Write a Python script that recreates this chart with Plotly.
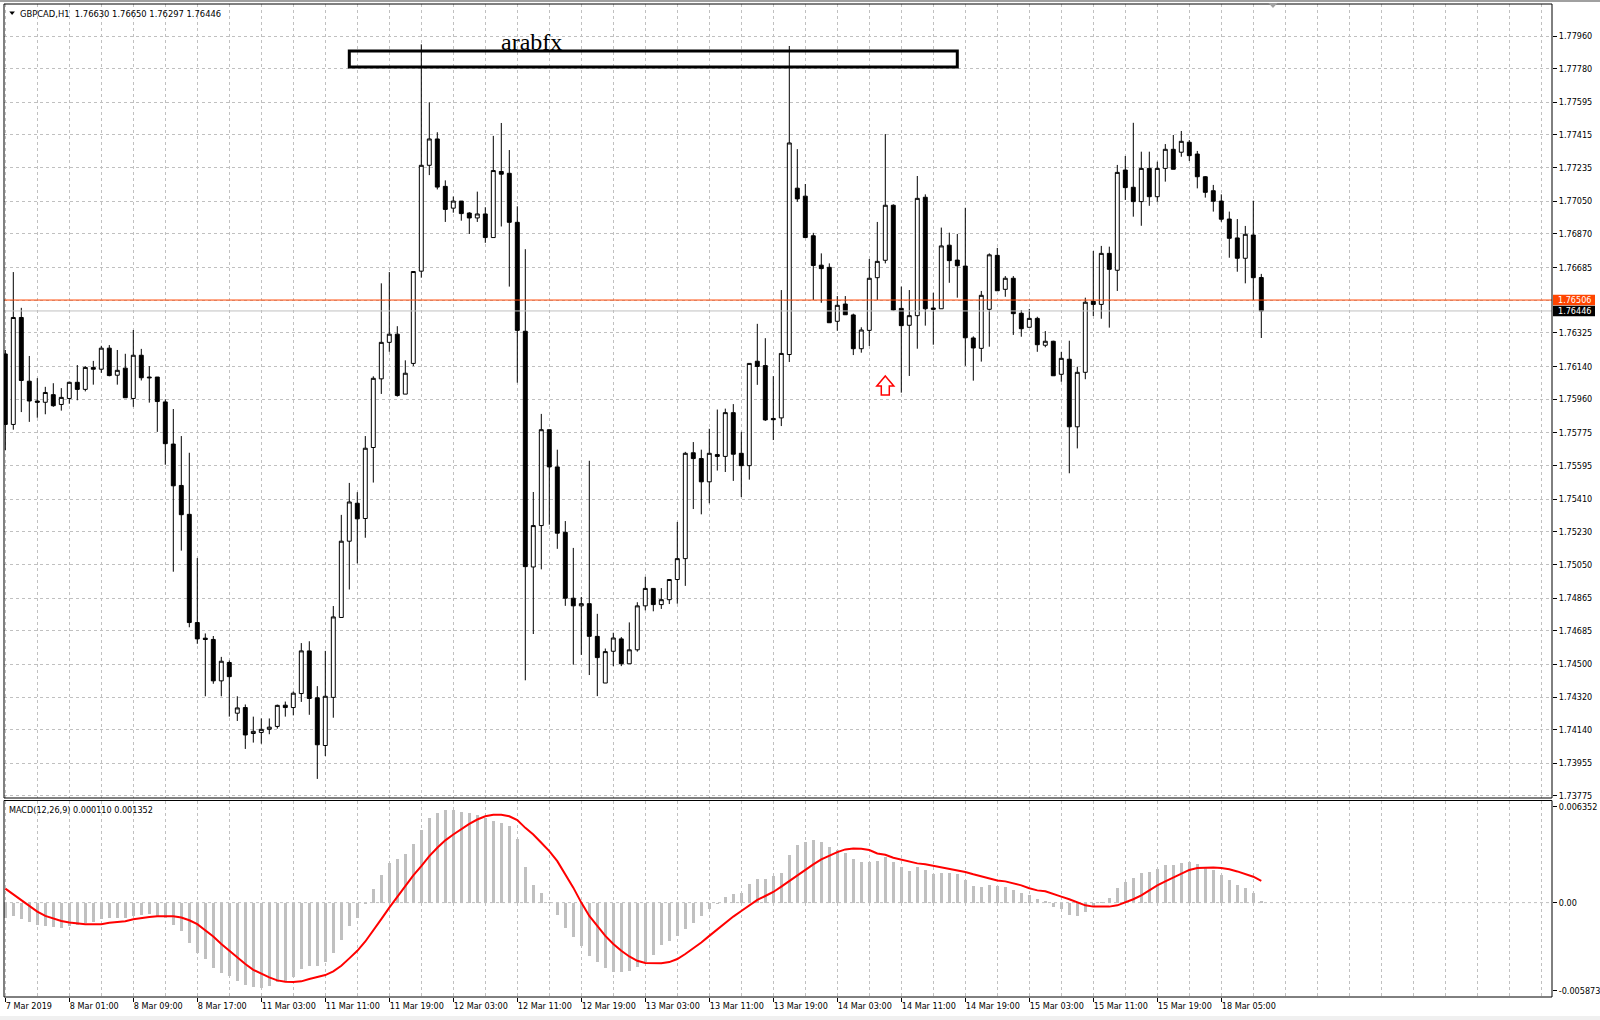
import plotly.graph_objects as go

# ---------------- data ----------------
opens = [1.76209,1.75821,1.76410,1.76059,1.75950,1.75943,1.75985,1.75931,1.75964,1.76053,
         1.76014,1.76135,1.76125,1.76241,1.76092,1.76131,1.75964,1.76202,1.76082,1.76082,
         1.75945,1.75713,1.75485,1.75326,1.74730,1.74644,1.74637,1.74409,1.74510,1.74231,
         1.74262,1.74119,1.74125,1.74142,1.74158,1.74275,1.74262,1.74339,1.74574,1.74316,
         1.74053,1.74318,1.74758,1.75178,1.75387,1.75303,1.75694,1.76072,1.76273,1.76318,
         1.75988,1.76157,1.76665,1.77248,1.77393,1.77132,1.77012,1.77051,1.76985,1.76958,
         1.76980,1.76850,1.77214,1.77204,1.76934,1.76334,1.75036,1.75264,1.75792,1.75587,
         1.75227,1.74864,1.74822,1.74834,1.74654,1.74397,1.74572,1.74640,1.74503,1.74580,
         1.74822,1.74918,1.74829,1.74856,1.74967,1.75082,1.75665,1.75633,1.75505,1.75655,
         1.75645,1.75886,1.75662,1.75594,1.76169,1.76145,1.75854,1.75857,1.76206,1.77122,
         1.77078,1.76860,1.76698,1.76686,1.76389,1.76484,1.76424,1.76238,1.76339,1.76629,
         1.76725,1.77028,1.76460,1.76367,1.76420,1.77072,1.76462,1.76458,1.76808,1.76726,
         1.76693,1.76297,1.76240,1.76455,1.76752,1.76565,1.76626,1.76433,1.76356,1.76405,
         1.76257,1.76279,1.76097,1.76180,1.75808,1.76108,1.76499,1.76482,1.76763,1.76670,
         1.77222,1.77127,1.77048,1.77231,1.77075,1.77231,1.77336,1.77320,1.77375,1.77310,
         1.77185,1.77108,1.77051,1.76952,1.76848,1.76736,1.76864,1.76630]
highs = [1.76231,1.76660,1.76463,1.76198,1.76076,1.76028,1.76048,1.76021,1.76057,1.76148,
         1.76142,1.76171,1.76254,1.76258,1.76231,1.76210,1.76341,1.76237,1.76142,1.76082,
         1.75960,1.75906,1.75757,1.75665,1.75085,1.74670,1.74656,1.74541,1.74521,1.74324,
         1.74279,1.74212,1.74202,1.74202,1.74278,1.74295,1.74351,1.74617,1.74627,1.74380,
         1.74574,1.74821,1.75323,1.75499,1.75448,1.75757,1.76086,1.76598,1.76660,1.76362,
         1.76174,1.76663,1.77914,1.77595,1.77430,1.77165,1.77076,1.77051,1.76990,1.77103,
         1.77017,1.77410,1.77481,1.77332,1.77022,1.76786,1.75449,1.75879,1.75792,1.75682,
         1.75289,1.75141,1.74871,1.75621,1.74778,1.74587,1.74674,1.74650,1.74731,1.74842,
         1.74982,1.74918,1.74920,1.74969,1.75284,1.75670,1.75724,1.75682,1.75797,1.75903,
         1.75908,1.75933,1.75780,1.76157,1.76375,1.76296,1.76087,1.76561,1.77905,1.77337,
         1.77145,1.76876,1.76763,1.76708,1.76528,1.76528,1.76431,1.76356,1.76732,1.76936,
         1.77420,1.77033,1.76580,1.76561,1.77189,1.77088,1.76546,1.76905,1.76877,1.76870,
         1.77014,1.76306,1.76556,1.76763,1.76793,1.76638,1.76638,1.76451,1.76457,1.76414,
         1.76335,1.76282,1.76221,1.76282,1.76139,1.76519,1.76776,1.76804,1.76800,1.77250,
         1.77299,1.77482,1.77323,1.77323,1.77268,1.77365,1.77415,1.77437,1.77387,1.77327,
         1.77189,1.77140,1.77088,1.76993,1.76952,1.76914,1.77053,1.76650]
lows = [1.75680,1.75792,1.75889,1.75835,1.75858,1.75877,1.75918,1.75897,1.75935,1.75954,
        1.76003,1.76040,1.76105,1.76086,1.76040,1.75968,1.75918,1.76063,1.75941,1.75780,
        1.75599,1.75010,1.75126,1.74704,1.74613,1.74324,1.74393,1.74324,1.74212,1.74188,
        1.74034,1.74069,1.74063,1.74115,1.74146,1.74212,1.74219,1.74293,1.74222,1.73869,
        1.73995,1.74206,1.74758,1.74912,1.75056,1.75197,1.75501,1.75989,1.76221,1.75974,
        1.75988,1.76142,1.76629,1.77194,1.77115,1.76936,1.76987,1.76943,1.76870,1.76936,
        1.76821,1.76850,1.76911,1.76580,1.76051,1.74412,1.74667,1.75023,1.75269,1.75136,
        1.74822,1.74498,1.74552,1.74441,1.74325,1.74397,1.74490,1.74490,1.74503,1.74570,
        1.74797,1.74792,1.74805,1.74832,1.74834,1.74932,1.75355,1.75326,1.75387,1.75567,
        1.75559,1.75510,1.75421,1.75517,1.76039,1.75840,1.75735,1.75812,1.76165,1.77047,
        1.76850,1.76506,1.76491,1.76381,1.76337,1.76425,1.76203,1.76216,1.76253,1.76506,
        1.76708,1.76447,1.75996,1.76088,1.76238,1.76365,1.76260,1.76458,1.76601,1.76519,
        1.76144,1.76062,1.76167,1.76249,1.76557,1.76524,1.76314,1.76304,1.76356,1.76221,
        1.76246,1.76089,1.76056,1.75552,1.75689,1.76070,1.76418,1.76403,1.76354,1.76556,
        1.77057,1.76965,1.76915,1.77025,1.77048,1.77158,1.77226,1.77295,1.77272,1.77121,
        1.77070,1.76993,1.76937,1.76739,1.76662,1.76598,1.76506,1.76297]
closes = [1.75821,1.76410,1.76063,1.75950,1.75943,1.75997,1.75924,1.75970,1.76053,1.76014,
          1.76135,1.76125,1.76241,1.76090,1.76119,1.75968,1.76202,1.76078,1.76078,1.75947,
          1.75715,1.75483,1.75324,1.74730,1.74640,1.74637,1.74409,1.74517,1.74432,1.74260,
          1.74111,1.74131,1.74142,1.74154,1.74274,1.74262,1.74341,1.74574,1.74312,1.74057,
          1.74324,1.74761,1.75178,1.75394,1.75301,1.75690,1.76075,1.76273,1.76318,1.75980,
          1.76103,1.76663,1.77248,1.77393,1.77128,1.77005,1.77051,1.76982,1.76958,1.76980,
          1.76850,1.77219,1.77199,1.76934,1.76339,1.75038,1.75264,1.75792,1.75587,1.75222,
          1.74864,1.74822,1.74834,1.74654,1.74537,1.74570,1.74645,1.74503,1.74580,1.74822,
          1.74918,1.74829,1.74856,1.74967,1.75082,1.75662,1.75633,1.75505,1.75662,1.75645,
          1.75886,1.75657,1.75594,1.76157,1.76140,1.75846,1.75847,1.76212,1.77371,1.77063,
          1.76850,1.76696,1.76679,1.76381,1.76477,1.76425,1.76238,1.76341,1.76626,1.76719,
          1.77028,1.76451,1.76365,1.76420,1.77066,1.76458,1.76455,1.76804,1.76723,1.76695,
          1.76298,1.76242,1.76532,1.76755,1.76557,1.76626,1.76431,1.76348,1.76405,1.76260,
          1.76279,1.76089,1.76185,1.75808,1.76108,1.76494,1.76482,1.76763,1.76675,1.77209,
          1.77125,1.77048,1.77231,1.77075,1.77231,1.77336,1.77226,1.77380,1.77301,1.77185,
          1.77099,1.77050,1.76951,1.76846,1.76736,1.76868,1.76629,1.76446]

macd_main = [-0.00093,-0.00083,-0.00099,-0.00120,-0.00141,-0.00145,-0.00149,-0.00157,-0.00145,-0.00141,
             -0.00124,-0.00120,-0.00099,-0.00097,-0.00093,-0.00097,-0.00083,-0.00076,-0.00072,-0.00083,
             -0.00095,-0.00141,-0.00176,-0.00252,-0.00314,-0.00351,-0.00409,-0.00438,-0.00459,-0.00488,
             -0.00511,-0.00523,-0.00531,-0.00521,-0.00496,-0.00492,-0.00465,-0.00413,-0.00393,-0.00393,
             -0.00368,-0.00314,-0.00231,-0.00145,-0.00093,-0.00006,0.00087,0.00174,0.00244,0.00269,
             0.00300,0.00362,0.00449,0.00527,0.00558,0.00575,0.00575,0.00566,0.00558,0.00542,
             0.00527,0.00506,0.00496,0.00475,0.00397,0.00223,0.00107,0.00058,0.00002,-0.00079,
             -0.00155,-0.00217,-0.00269,-0.00331,-0.00372,-0.00409,-0.00430,-0.00430,-0.00424,-0.00403,
             -0.00372,-0.00325,-0.00265,-0.00238,-0.00207,-0.00165,-0.00124,-0.00083,-0.00041,-0.00010,
             0.00037,0.00052,0.00062,0.00114,0.00149,0.00149,0.00165,0.00182,0.00294,0.00356,
             0.00378,0.00387,0.00380,0.00349,0.00329,0.00306,0.00269,0.00250,0.00250,0.00256,
             0.00281,0.00250,0.00219,0.00194,0.00223,0.00200,0.00176,0.00182,0.00182,0.00176,
             0.00141,0.00101,0.00095,0.00107,0.00101,0.00095,0.00076,0.00058,0.00045,0.00021,
             0.00008,-0.00027,-0.00039,-0.00076,-0.00083,-0.00058,-0.00021,0.00002,0.00027,0.00089,
             0.00126,0.00151,0.00182,0.00188,0.00207,0.00231,0.00231,0.00244,0.00250,0.00238,
             0.00219,0.00200,0.00169,0.00138,0.00107,0.00089,0.00058,0.000110]
macd_signal = [0.00087,0.00052,0.00017,-0.00021,-0.00056,-0.00083,-0.00099,-0.00114,-0.00124,-0.00130,
               -0.00134,-0.00134,-0.00134,-0.00126,-0.00120,-0.00116,-0.00103,-0.00095,-0.00089,-0.00085,
               -0.00083,-0.00085,-0.00093,-0.00110,-0.00134,-0.00170,-0.00211,-0.00258,-0.00300,-0.00341,
               -0.00382,-0.00418,-0.00444,-0.00465,-0.00484,-0.00492,-0.00494,-0.00490,-0.00475,-0.00461,
               -0.00451,-0.00428,-0.00393,-0.00347,-0.00300,-0.00242,-0.00176,-0.00103,-0.00031,0.00037,
               0.00103,0.00169,0.00227,0.00289,0.00341,0.00387,0.00424,0.00459,0.00490,0.00517,
               0.00537,0.00546,0.00546,0.00537,0.00513,0.00465,0.00424,0.00372,0.00320,0.00258,
               0.00176,0.00093,0.00000,-0.00083,-0.00145,-0.00207,-0.00258,-0.00300,-0.00335,-0.00362,
               -0.00376,-0.00378,-0.00378,-0.00370,-0.00351,-0.00320,-0.00285,-0.00248,-0.00207,-0.00165,
               -0.00128,-0.00087,-0.00052,-0.00017,0.00017,0.00041,0.00066,0.00099,0.00134,0.00169,
               0.00207,0.00238,0.00269,0.00294,0.00314,0.00331,0.00337,0.00335,0.00327,0.00306,
               0.00298,0.00279,0.00267,0.00258,0.00244,0.00238,0.00229,0.00217,0.00211,0.00200,
               0.00190,0.00176,0.00163,0.00151,0.00138,0.00132,0.00120,0.00107,0.00089,0.00076,
               0.00070,0.00052,0.00037,0.00021,0.00004,-0.00017,-0.00025,-0.00025,-0.00025,-0.00017,
               0.00002,0.00021,0.00045,0.00076,0.00107,0.00132,0.00157,0.00182,0.00203,0.00215,
               0.00219,0.00219,0.00215,0.00207,0.00194,0.00176,0.00161,0.001352]

time_labels = ["7 Mar 2019", "8 Mar 01:00", "8 Mar 09:00", "8 Mar 17:00", "11 Mar 03:00",
               "11 Mar 11:00", "11 Mar 19:00", "12 Mar 03:00", "12 Mar 11:00", "12 Mar 19:00",
               "13 Mar 03:00", "13 Mar 11:00", "13 Mar 19:00", "14 Mar 03:00", "14 Mar 11:00",
               "14 Mar 19:00", "15 Mar 03:00", "15 Mar 11:00", "15 Mar 19:00", "18 Mar 05:00"]
price_ticks = [1.77960, 1.77780, 1.77595, 1.77415, 1.77235, 1.77050, 1.76870, 1.76685, 1.76505,
               1.76325, 1.76140, 1.75960, 1.75775, 1.75595, 1.75410, 1.75230, 1.75050, 1.74865,
               1.74685, 1.74500, 1.74320, 1.74140, 1.73955, 1.73775]
hline_price = 1.76506
bid_price = closes[-1]
macd_max, macd_min = 0.006352, -0.005873
symbol = "GBPCAD,H1"
watermark = "arabfx"

# ---------------- geometry ----------------
W, H = 1600, 1020
ML, MR, MT, MB = 4, 48, 4, 23
PW, PH = W - ML - MR, H - MT - MB
BAR_PX = 8.0
X0 = -0.1625
x_range = [X0, X0 + PW / BAR_PX]
main_bottom_px, macd_top_px = 798, 800.5
price_range = [1.737639, 1.781362]
dom_main = [(H - MB - main_bottom_px) / PH, 1.0]
dom_macd = [0.0, (H - MB - macd_top_px) / PH]

def pxx(px):
    return (px - ML) / PW

def pxy(py):
    return (H - MB - py) / PH

def price_to_py(p):
    top_py, bot_py = MT, main_bottom_px
    return top_py + (price_range[1] - p) / (price_range[1] - price_range[0]) * (bot_py - top_py)

px_per_price = (main_bottom_px - MT) / (price_range[1] - price_range[0])

FONT = "DejaVu Sans Condensed, Liberation Sans Narrow, Liberation Sans, sans-serif"
FS = 9
GRID = "#C0C0C0"

xs = list(range(len(opens)))

fig = go.Figure()
fig.add_trace(go.Candlestick(
    x=xs, open=opens, high=highs, low=lows, close=closes,
    increasing=dict(fillcolor="white", line=dict(color="black", width=1)),
    decreasing=dict(fillcolor="black", line=dict(color="black", width=1)),
    whiskerwidth=0, hoverinfo="skip", showlegend=False, xaxis="x", yaxis="y"))
fig.add_trace(go.Bar(x=xs, y=macd_main, width=0.375, marker=dict(color="#C0C0C0", line=dict(width=0)),
                     hoverinfo="skip", showlegend=False, xaxis="x", yaxis="y2"))
fig.add_trace(go.Scatter(x=xs, y=macd_signal, mode="lines", line=dict(color="#FF0000", width=2),
                         hoverinfo="skip", showlegend=False, xaxis="x", yaxis="y2"))

price_text = ["" if abs(v - hline_price) < 0.00003 else f"{v:.5f}" for v in price_ticks]

macd_scale = (macd_max - macd_min) / (H - MB - macd_top_px)
macd_tickvals = [macd_max - 6.2 * macd_scale, 0.0, macd_min + 6.3 * macd_scale]
macd_ticktext = [f"{macd_max:.6f}", "0.00", f"{macd_min:.6f}"]

fig.update_layout(
    width=W, height=H, margin=dict(l=ML, r=MR, t=MT, b=MB, pad=0, autoexpand=False),
    paper_bgcolor="white", plot_bgcolor="white",
    font=dict(family=FONT, size=FS, color="black"),
    showlegend=False, bargap=0,
    xaxis=dict(domain=[0, 1], anchor="y2", range=x_range, showline=False, zeroline=False,
               automargin=False, tickangle=0,
               tickmode="array", tickvals=[8 * k for k in range(len(time_labels))], ticktext=time_labels,
               ticks="outside", ticklen=4, tickcolor="black", tickwidth=1,
               ticklabelposition="outside right", tickfont=dict(family=FONT, size=FS, color="black"),
               showgrid=True, gridcolor=GRID, gridwidth=1, griddash="3px,3px",
               minor=dict(tick0=0, dtick=4, showgrid=True, gridcolor=GRID, gridwidth=1,
                          griddash="3px,3px", ticks=""),
               rangeslider=dict(visible=False), fixedrange=True),
    yaxis=dict(domain=dom_main, anchor="x", side="right", range=price_range, showline=False,
               zeroline=False, automargin=False, tickmode="array", tickvals=price_ticks, ticktext=price_text,
               ticks="outside", ticklen=4, tickcolor="black", tickwidth=1,
               tickfont=dict(family=FONT, size=FS, color="black"),
               showgrid=True, gridcolor=GRID, gridwidth=1, griddash="3px,3px", fixedrange=True),
    yaxis2=dict(domain=dom_macd, anchor="x", side="right", range=[macd_min, macd_max], showline=False,
                zeroline=False, automargin=False, tickmode="array", tickvals=macd_tickvals,
                ticktext=macd_ticktext,
                ticks="outside", ticklen=4, tickcolor="black", tickwidth=1,
                tickfont=dict(family=FONT, size=FS, color="black"),
                showgrid=False, fixedrange=True),
)

shapes = []
# zero level of MACD (dashed grid line)
shapes.append(dict(type="line", xref="paper", yref="y2", x0=0, x1=1, y0=0, y1=0,
                   line=dict(color=GRID, width=1, dash="3px,3px"), layer="below"))
# horizontal line object and bid line
shapes.append(dict(type="line", xref="paper", yref="y", x0=0, x1=1, y0=bid_price, y1=bid_price,
                   line=dict(color="#C0C0C0", width=1)))
shapes.append(dict(type="line", xref="paper", yref="y", x0=0, x1=1, y0=hline_price, y1=hline_price,
                   line=dict(color="#FF4500", width=1)))
# rectangle object
rect_bar0, rect_bar1 = 43, 119
rect_p0, rect_p1 = 1.77789, 1.77877
shapes.append(dict(type="rect", xref="x", yref="y", x0=rect_bar0, x1=rect_bar1, y0=rect_p0, y1=rect_p1,
                   line=dict(color="black", width=3), fillcolor="rgba(0,0,0,0)"))
# arrow object (hollow up arrow)
arrow_bar, arrow_price = 110, 1.76088
pts = [(0, 0), (8.5, 10), (4, 10), (4, 19), (-4, 19), (-4, 10), (-8.5, 10)]
path = "M " + " L ".join(f"{arrow_bar + dx / BAR_PX},{arrow_price - dy / px_per_price}" for dx, dy in pts) + " Z"
shapes.append(dict(type="path", xref="x", yref="y", path=path, fillcolor="white",
                   line=dict(color="#FF0000", width=1.5)))
# pane borders
shapes.append(dict(type="rect", xref="paper", yref="paper", x0=0, x1=1, y0=dom_main[0], y1=1,
                   line=dict(color="black", width=1), fillcolor="rgba(0,0,0,0)"))
shapes.append(dict(type="rect", xref="paper", yref="paper", x0=0, x1=1, y0=0, y1=dom_macd[1],
                   line=dict(color="black", width=1), fillcolor="rgba(0,0,0,0)"))
# price labels on the axis
for p, col in [(hline_price, "#FF4500"), (bid_price, "black")]:
    py = price_to_py(p)
    shapes.append(dict(type="rect", xref="paper", yref="paper", x0=pxx(1553), x1=pxx(1595),
                       y0=pxy(py + 5.2), y1=pxy(py - 5.2), line=dict(width=0), fillcolor=col))
# header triangle
shapes.append(dict(type="path", xref="paper", yref="paper",
                   path=f"M {pxx(9.3)},{pxy(11.5)} L {pxx(14.9)},{pxy(11.5)} L {pxx(12.1)},{pxy(15)} Z",
                   fillcolor="black", line=dict(width=0)))
# chart-shift marker on the top border
shapes.append(dict(type="path", xref="paper", yref="paper",
                   path=f"M {pxx(1268.5)},{pxy(3)} L {pxx(1277.5)},{pxy(3)} L {pxx(1273)},{pxy(8)} Z",
                   fillcolor="#A0A0A0", line=dict(width=0)))
# window frame lines
shapes.append(dict(type="rect", xref="paper", yref="paper", x0=pxx(0), x1=pxx(W), y0=pxy(2), y1=pxy(0),
                   line=dict(width=0), fillcolor="#A0A0A0"))
shapes.append(dict(type="rect", xref="paper", yref="paper", x0=pxx(0), x1=pxx(W), y0=pxy(H), y1=pxy(1016),
                   line=dict(width=0), fillcolor="#F0F0F0"))
fig.update_layout(shapes=shapes)

ann = []
ann.append(dict(xref="paper", yref="paper", x=pxx(19.5), y=pxy(13.3), xanchor="left", yanchor="middle",
                text=f"{symbol}  {opens[-1]:.5f} {highs[-1]:.5f} {lows[-1]:.5f} {closes[-1]:.5f}",
                showarrow=False, font=dict(family=FONT, size=9.3, color="black"), borderpad=0, borderwidth=0))
ann.append(dict(xref="paper", yref="paper", x=pxx(8.5), y=pxy(809.5), xanchor="left", yanchor="middle",
                text=f"MACD(12,26,9) {macd_main[-1]:.6f} {macd_signal[-1]:.6f}",
                showarrow=False, font=dict(family=FONT, size=FS, color="black"), borderpad=0, borderwidth=0))
ann.append(dict(xref="x", yref="paper", x=(531 - 5.3) / BAR_PX, y=pxy(42), xanchor="center", yanchor="middle",
                text=watermark, showarrow=False,
                font=dict(family="Liberation Serif, Times New Roman, serif", size=24, color="black"),
                borderpad=0, borderwidth=0))
for p in [hline_price, bid_price]:
    ann.append(dict(xref="paper", yref="paper", x=pxx(1557.5), y=pxy(price_to_py(p)), xanchor="left",
                    yanchor="middle", text=f"{p:.5f}", showarrow=False,
                    font=dict(family=FONT, size=FS, color="white"), borderpad=0, borderwidth=0))
fig.update_layout(annotations=ann)

fig.write_html("out.html", config={"displayModeBar": False, "staticPlot": True},
               post_script="document.body.style.margin='0px';document.body.style.overflow='hidden';")
